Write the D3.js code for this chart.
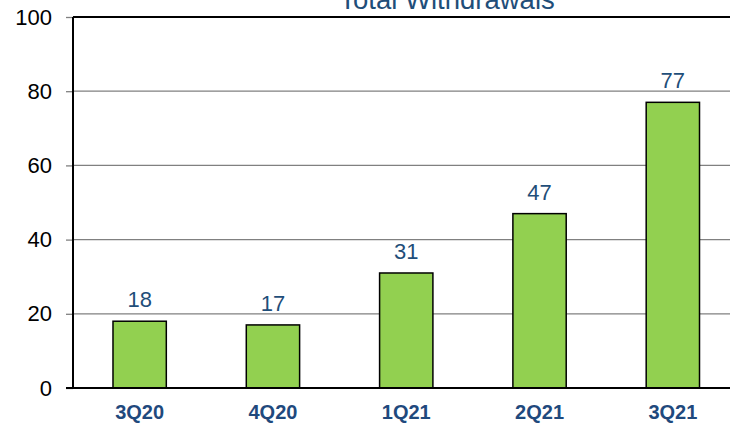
<!DOCTYPE html>
<html>
<head>
<meta charset="utf-8">
<script src="https://cdn.jsdelivr.net/npm/d3@7"></script>
<style>
  body { margin: 0; background: #fff; }
  text { font-family: "Liberation Sans", Arial, sans-serif; }
</style>
</head>
<body>
<div id="chart"></div>
<script>
// chart data
var quarters = ['3Q20', '4Q20', '1Q21', '2Q21', '3Q21'];
var withdrawals = [18, 17, 31, 47, 77];
var yTicks = [0, 20, 40, 60, 80, 100];

var width = 730, height = 425;
var plotLeft = 73, plotRight = 739.5, plotTop = 17, plotBottom = 388;

var svg = d3.select('#chart').append('svg')
  .attr('width', width)
  .attr('height', height);

var x = d3.scaleBand()
  .domain(quarters)
  .range([plotLeft, plotRight])
  .paddingInner(0.6)
  .paddingOuter(0.3);

var y = d3.scaleLinear()
  .domain([0, 100])
  .range([plotBottom, plotTop]);

//gridlines
svg.append('g')
  .selectAll('line')
  .data(yTicks.filter(function(d){ return d > 0 && d < 100; }))
  .enter().append('line')
  .attr('x1', plotLeft)
  .attr('x2', width)
  .attr('y1', function(d){ return y(d); })
  .attr('y2', function(d){ return y(d); })
  .style('stroke', '#808080')
  .style('stroke-width', 1.3);

//top border
svg.append('line')
  .attr('x1', plotLeft).attr('x2', width)
  .attr('y1', y(100)).attr('y2', y(100))
  .style('stroke', '#000')
  .style('stroke-width', 2);

//y axis
var yAxis = svg.append('g')
  .attr('transform', 'translate(' + plotLeft + ',0)')
  .call(d3.axisLeft(y).tickValues(yTicks).tickSize(7).tickPadding(14));
yAxis.select('.domain').remove();
yAxis.selectAll('.tick line').style('stroke', '#808080').style('stroke-width', 1.3);
yAxis.selectAll('.tick text')
  .style('font-size', '22px')
  .style('font-family', '"Liberation Sans", Arial, sans-serif')
  .style('fill', '#000');

//bars
svg.append('g')
  .selectAll('rect')
  .data(withdrawals)
  .enter().append('rect')
  .attr('x', function(d, i){ return x(quarters[i]); })
  .attr('y', function(d){ return y(d); })
  .attr('width', x.bandwidth())
  .attr('height', function(d){ return y(0) - y(d); })
  .style('fill', '#92D050')
  .style('stroke', '#000')
  .style('stroke-width', 1.5);

//value labels
svg.append('g')
  .selectAll('text')
  .data(withdrawals)
  .enter().append('text')
  .attr('x', function(d, i){ return x(quarters[i]) + x.bandwidth() / 2; })
  .attr('y', function(d){ return y(d) - 14; })
  .attr('text-anchor', 'middle')
  .style('font-size', '22px')
  .style('fill', '#1F4E79')
  .text(function(d){ return d; });

//axis lines
svg.append('line')
  .attr('x1', plotLeft).attr('x2', plotLeft)
  .attr('y1', plotTop).attr('y2', plotBottom)
  .style('stroke', '#000').style('stroke-width', 2);
svg.append('line')
  .attr('x1', plotLeft - 7).attr('x2', width)
  .attr('y1', plotBottom).attr('y2', plotBottom)
  .style('stroke', '#000').style('stroke-width', 2);

//category labels
svg.append('g')
  .selectAll('text')
  .data(quarters)
  .enter().append('text')
  .attr('x', function(d){ return x(d) + x.bandwidth() / 2; })
  .attr('y', 419)
  .attr('text-anchor', 'middle')
  .style('font-size', '20px')
  .style('font-weight', 'bold')
  .style('fill', '#1F497D')
  .text(function(d){ return d; });

//title (clipped at top like the original)
svg.append('text')
  .attr('x', 447)
  .attr('y', 9)
  .attr('text-anchor', 'middle')
  .style('font-size', '27.5px')
  .style('fill', '#1F4E79')
  .text('Total Withdrawals');
</script>
</body>
</html>
